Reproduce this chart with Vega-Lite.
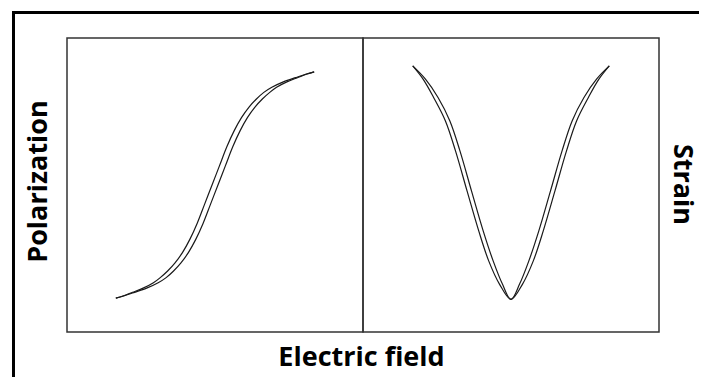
{
  "$schema": "https://vega.github.io/schema/vega-lite/v6.json",
  "padding": {"left": 9, "top": 8, "right": 0, "bottom": 0},
  "background": "white",
  "spacing": 0,
  "bounds": "flush",
  "datasets": {
    "pe": [
      {"branch": "up", "i": 0, "E": -67, "P": -77},
      {"branch": "up", "i": 1, "E": -61.7, "P": -75.5},
      {"branch": "up", "i": 2, "E": -54.3, "P": -73},
      {"branch": "up", "i": 3, "E": -45.8, "P": -70},
      {"branch": "up", "i": 4, "E": -38.4, "P": -66.5},
      {"branch": "up", "i": 5, "E": -33, "P": -63},
      {"branch": "up", "i": 6, "E": -28, "P": -58.5},
      {"branch": "up", "i": 7, "E": -23, "P": -53},
      {"branch": "up", "i": 8, "E": -18, "P": -46},
      {"branch": "up", "i": 9, "E": -13, "P": -37},
      {"branch": "up", "i": 10, "E": -8, "P": -26},
      {"branch": "up", "i": 11, "E": -3, "P": -13},
      {"branch": "up", "i": 12, "E": 2, "P": 0},
      {"branch": "up", "i": 13, "E": 7, "P": 13},
      {"branch": "up", "i": 14, "E": 12, "P": 26},
      {"branch": "up", "i": 15, "E": 17, "P": 37},
      {"branch": "up", "i": 16, "E": 22, "P": 46},
      {"branch": "up", "i": 17, "E": 27, "P": 53},
      {"branch": "up", "i": 18, "E": 32, "P": 58.5},
      {"branch": "up", "i": 19, "E": 37, "P": 63},
      {"branch": "up", "i": 20, "E": 41.6, "P": 66.5},
      {"branch": "up", "i": 21, "E": 48.2, "P": 70},
      {"branch": "up", "i": 22, "E": 55.7, "P": 73},
      {"branch": "up", "i": 23, "E": 62.3, "P": 75.5},
      {"branch": "up", "i": 24, "E": 67, "P": 77},
      {"branch": "down", "i": 0, "E": 67, "P": 77},
      {"branch": "down", "i": 1, "E": 61.7, "P": 75.5},
      {"branch": "down", "i": 2, "E": 54.3, "P": 73},
      {"branch": "down", "i": 3, "E": 45.8, "P": 70},
      {"branch": "down", "i": 4, "E": 38.4, "P": 66.5},
      {"branch": "down", "i": 5, "E": 33, "P": 63},
      {"branch": "down", "i": 6, "E": 28, "P": 58.5},
      {"branch": "down", "i": 7, "E": 23, "P": 53},
      {"branch": "down", "i": 8, "E": 18, "P": 46},
      {"branch": "down", "i": 9, "E": 13, "P": 37},
      {"branch": "down", "i": 10, "E": 8, "P": 26},
      {"branch": "down", "i": 11, "E": 3, "P": 13},
      {"branch": "down", "i": 12, "E": -2, "P": 0},
      {"branch": "down", "i": 13, "E": -7, "P": -13},
      {"branch": "down", "i": 14, "E": -12, "P": -26},
      {"branch": "down", "i": 15, "E": -17, "P": -37},
      {"branch": "down", "i": 16, "E": -22, "P": -46},
      {"branch": "down", "i": 17, "E": -27, "P": -53},
      {"branch": "down", "i": 18, "E": -32, "P": -58.5},
      {"branch": "down", "i": 19, "E": -37, "P": -63},
      {"branch": "down", "i": 20, "E": -41.6, "P": -66.5},
      {"branch": "down", "i": 21, "E": -48.2, "P": -70},
      {"branch": "down", "i": 22, "E": -55.7, "P": -73},
      {"branch": "down", "i": 23, "E": -62.3, "P": -75.5},
      {"branch": "down", "i": 24, "E": -67, "P": -77}
    ],
    "se": [
      {"branch": "a", "i": 0, "E": -66.4, "S": 90.5},
      {"branch": "a", "i": 1, "E": -59.4, "S": 86},
      {"branch": "a", "i": 2, "E": -52.2, "S": 79.7},
      {"branch": "a", "i": 3, "E": -44.3, "S": 71.8},
      {"branch": "a", "i": 4, "E": -37.5, "S": 61.6},
      {"branch": "a", "i": 5, "E": -29.7, "S": 48},
      {"branch": "a", "i": 6, "E": -21.8, "S": 34.4},
      {"branch": "a", "i": 7, "E": -15, "S": 24.1},
      {"branch": "a", "i": 8, "E": -7.8, "S": 16.3},
      {"branch": "a", "i": 9, "E": 0, "S": 11.1},
      {"branch": "a", "i": 10, "E": 5.8, "S": 16.3},
      {"branch": "a", "i": 11, "E": 12, "S": 24.1},
      {"branch": "a", "i": 12, "E": 18.8, "S": 34.4},
      {"branch": "a", "i": 13, "E": 26.7, "S": 48},
      {"branch": "a", "i": 14, "E": 34.5, "S": 61.6},
      {"branch": "a", "i": 15, "E": 41.3, "S": 71.8},
      {"branch": "a", "i": 16, "E": 49.2, "S": 79.7},
      {"branch": "a", "i": 17, "E": 57.8, "S": 86},
      {"branch": "a", "i": 18, "E": 66.4, "S": 90.5},
      {"branch": "b", "i": 0, "E": -66.4, "S": 90.5},
      {"branch": "b", "i": 1, "E": -57.8, "S": 86},
      {"branch": "b", "i": 2, "E": -49.2, "S": 79.7},
      {"branch": "b", "i": 3, "E": -41.3, "S": 71.8},
      {"branch": "b", "i": 4, "E": -34.5, "S": 61.6},
      {"branch": "b", "i": 5, "E": -26.7, "S": 48},
      {"branch": "b", "i": 6, "E": -18.8, "S": 34.4},
      {"branch": "b", "i": 7, "E": -12, "S": 24.1},
      {"branch": "b", "i": 8, "E": -5.8, "S": 16.3},
      {"branch": "b", "i": 9, "E": 0, "S": 11.1},
      {"branch": "b", "i": 10, "E": 7.8, "S": 16.3},
      {"branch": "b", "i": 11, "E": 15, "S": 24.1},
      {"branch": "b", "i": 12, "E": 21.8, "S": 34.4},
      {"branch": "b", "i": 13, "E": 29.7, "S": 48},
      {"branch": "b", "i": 14, "E": 37.5, "S": 61.6},
      {"branch": "b", "i": 15, "E": 44.3, "S": 71.8},
      {"branch": "b", "i": 16, "E": 52.2, "S": 79.7},
      {"branch": "b", "i": 17, "E": 59.4, "S": 86},
      {"branch": "b", "i": 18, "E": 66.4, "S": 90.5}
    ]
  },
  "config": {
    "view": {"stroke": "#333333", "strokeWidth": 1.5},
    "axis": {
      "labels": false, "ticks": false, "domain": false, "grid": false,
      "titleFont": "Open Sans", "titleFontWeight": "bold", "titleFontSize": 27, "titleColor": "black"
    }
  },
  "hconcat": [
    {
      "width": 296,
      "height": 294,
      "layer": [
        {
          "data": {"name": "pe"},
          "mark": {"type": "line", "color": "#1a1a1a", "strokeWidth": 1.2, "interpolate": "catmull-rom"},
          "encoding": {
            "x": {"field": "E", "type": "quantitative", "scale": {"domain": [-100, 100]},
                  "axis": {"title": "Electric field", "titleX": 294, "titleY": 33, "titleBaseline": "alphabetic", "titleAngle": 0}},
            "y": {"field": "P", "type": "quantitative", "scale": {"domain": [-100, 100]},
                  "axis": {"title": "Polarization", "titleX": -21, "titleY": 143, "titleBaseline": "alphabetic", "titleAngle": -90}},
            "detail": {"field": "branch"},
            "order": {"field": "i"}
          }
        },
        {
          "data": {"values": [{"frame": "top"}]},
          "mark": {"type": "rule", "color": "black", "strokeWidth": 3},
          "encoding": {
            "x": {"datum": -137.16, "type": "quantitative", "scale": {"domain": [-100, 100]}},
            "x2": {"datum": 327.03},
            "y": {"datum": 117.35, "type": "quantitative", "scale": {"domain": [-100, 100]}}
          }
        },
        {
          "data": {"values": [{"frame": "left"}]},
          "mark": {"type": "rule", "color": "black", "strokeWidth": 3},
          "encoding": {
            "x": {"datum": -136.15, "type": "quantitative", "scale": {"domain": [-100, 100]}},
            "y": {"datum": 118.37, "type": "quantitative", "scale": {"domain": [-100, 100]}},
            "y2": {"datum": -130.61}
          }
        }
      ]
    },
    {
      "width": 296,
      "height": 294,
      "data": {"name": "se"},
      "mark": {"type": "line", "color": "#1a1a1a", "strokeWidth": 1.2, "interpolate": "catmull-rom"},
      "encoding": {
        "x": {"field": "E", "type": "quantitative", "scale": {"domain": [-100, 100]}, "axis": null},
        "y": {"field": "S", "type": "quantitative", "scale": {"domain": [0, 100]},
              "axis": {"orient": "right", "title": "Strain", "titleX": 14, "titleY": 146, "titleBaseline": "alphabetic", "titleAngle": 90}},
        "detail": {"field": "branch"},
        "order": {"field": "i"}
      }
    }
  ]
}
